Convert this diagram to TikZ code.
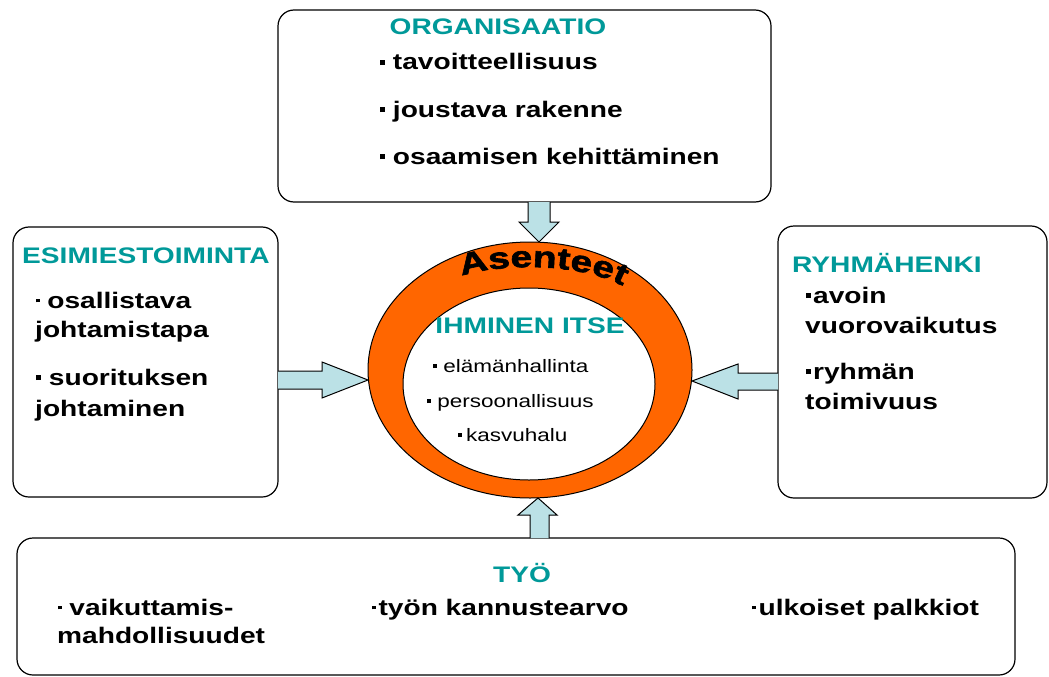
\documentclass[tikz,border=0pt]{standalone}
\usepackage{fontspec}
\setmainfont{Liberation Sans}[FakeStretch=1.25]
\newfontfamily\asfont{Liberation Sans}[FakeStretch=1.3,FakeBold=2]
\usetikzlibrary{decorations.text}
\definecolor{tealt}{RGB}{0,153,153}
\definecolor{ringor}{RGB}{255,102,0}
\definecolor{arrowfill}{RGB}{187,225,230}
\newcommand{\blt}{\rule[0.22em]{0.22em}{0.22em}}
\newcommand{\sblt}{\rule[0.25em]{0.15em}{0.15em}}
\begin{document}
\begin{tikzpicture}[x=1pt,y=-1pt,
  box/.style={draw=black, line width=1.2pt, rounded corners=16pt, fill=white},
  ttl/.style={inner sep=0pt, text=tealt, font=\fontsize{22.5}{27}\selectfont\bfseries},
  item/.style={anchor=base west, inner sep=0pt, font=\fontsize{22.5}{27}\selectfont\bfseries},
  small/.style={anchor=base west, inner sep=0pt, font=\fontsize{18}{22}\selectfont},
  barrow/.style={draw=black, line width=1pt, fill=arrowfill, line join=miter}]
\useasboundingbox (0,0) rectangle (1049,677);
% boxes
\draw[box] (278,10) rectangle (771,202);
\draw[box] (13,227) rectangle (278,497);
\draw[box] (778,226) rectangle (1047,498);
\draw[box] (17,538) rectangle (1015,675);
% ring
\draw[fill=ringor, even odd rule, line width=1pt] (530,370) ellipse [x radius=162, y radius=128]
  (529,384) ellipse [x radius=126, y radius=96];
% block arrows
\draw[barrow] (528,202) -- (528,222) -- (519,222) -- (539,242) -- (559,222) -- (550,222) -- (550,202);
\draw[barrow] (278,371) -- (322,371) -- (322,362) -- (368,380) -- (322,398) -- (322,389) -- (278,389);
\draw[barrow] (778,373) -- (738,373) -- (738,364) -- (692,381) -- (738,399) -- (738,390) -- (778,390);
\draw[barrow] (530,538) -- (530,515) -- (518,515) -- (538,498) -- (557,515) -- (549,515) -- (549,538);
% Asenteet
\path[decorate, decoration={text along path, text={|\asfont\fontsize{30}{34}\selectfont\bfseries|Asenteet}, text align=center}]
  (456,278) .. controls (498,262) and (585,262) .. (628,289);
% titles
\node[ttl, anchor=base] (orgt) at (498,35) {ORGANISAATIO};
\node[ttl, anchor=base west] (esit) at (22,263) {ESIMIESTOIMINTA};
\node[ttl, anchor=base west] (ryht) at (792,272) {RYHMÄHENKI};
\node[ttl, anchor=base] (tyot) at (522,582) {TYÖ};
\node[ttl, anchor=base] (ihmt) at (530,333) {IHMINEN ITSE};
% top items
\node[item] (o1) at (380,70) {\blt\ tavoitteellisuus};
\node[item] (o2) at (380,117) {\blt\ joustava rakenne};
\node[item] (o3) at (380,164) {\blt\ osaamisen kehittäminen};
% left items
\node[item] (e1) at (36,308) {\sblt\ osallistava};
\node[item] (e2) at (35,337) {johtamistapa};
\node[item] (e3) at (36,385) {\blt\ suorituksen};
\node[item] (e4) at (35,416) {johtaminen};
% right items
\node[item] (r1) at (806,303) {\blt\hspace{2pt}avoin};
\node[item] (r2) at (805,333) {vuorovaikutus};
\node[item] (r3) at (806,379) {\blt\hspace{2pt}ryhmän};
\node[item] (r4) at (805,409) {toimivuus};
% centre items
\node[small] (i1) at (433,372) {\blt\ elämänhallinta};
\node[small] (i2) at (427,407) {\blt\ persoonallisuus};
\node[small] (i3) at (458,441) {\blt\hspace{4pt}kasvuhalu};
% bottom items
\node[item] (t1) at (58,615) {\sblt\ vaikuttamis-};
\node[item] (t2) at (57,643) {mahdollisuudet};
\node[item] (t3) at (372,615) {\sblt\hspace{3pt}työn kannustearvo};
\node[item] (t4) at (752,615) {\sblt\hspace{3pt}ulkoiset palkkiot};
\end{tikzpicture}
\end{document}
